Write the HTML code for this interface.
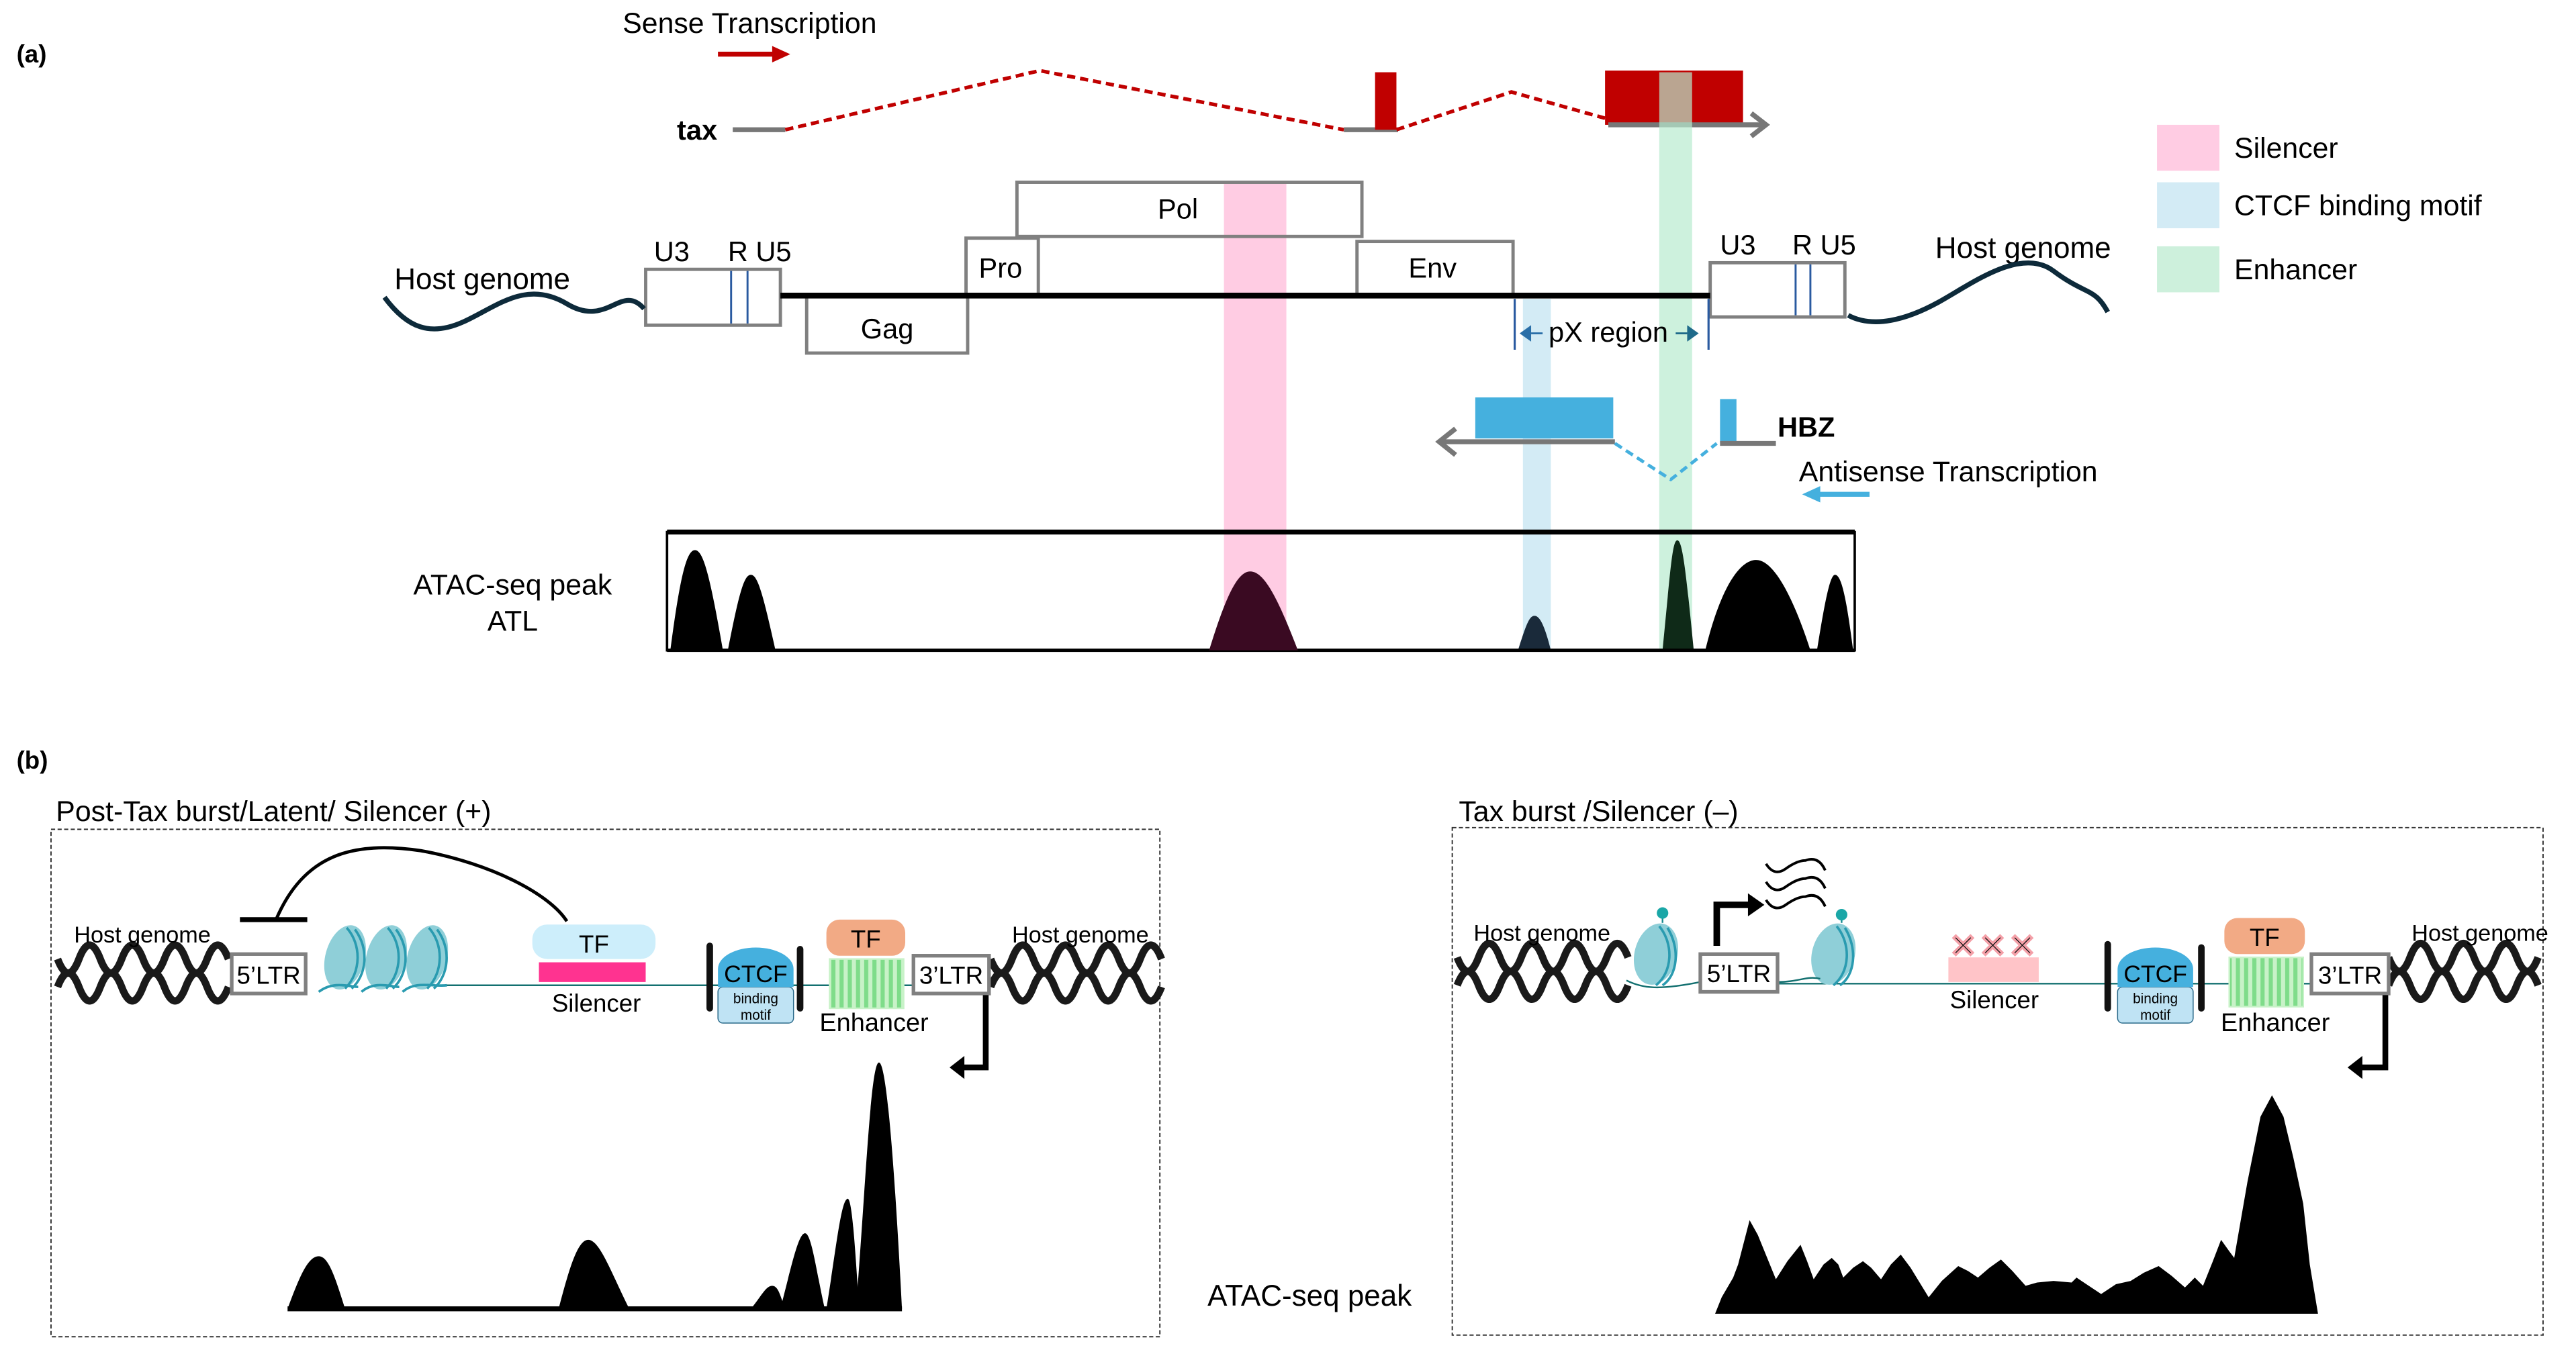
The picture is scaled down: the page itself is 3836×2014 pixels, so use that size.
<!DOCTYPE html>
<html><head><meta charset="utf-8"><style>
html,body{margin:0;padding:0;background:#fff;}
svg{display:block;}
text{font-family:"Liberation Sans",sans-serif;}
</style></head><body>
<svg width="3836" height="2014" viewBox="0 0 1568 823.3" xmlns="http://www.w3.org/2000/svg">
<defs>
<pattern id="str" width="5" height="10" patternUnits="userSpaceOnUse"><rect width="5" height="10" fill="#c8f2c8"/><rect x="1" width="2.5" height="10" fill="#7fdc8a"/></pattern>
</defs>
<rect width="1568" height="823.3" fill="#fff"/>
<!-- (a) -->
<text x="10" y="38" font-size="15" font-weight="bold">(a)</text>
<text x="379" y="20" font-size="17.5">Sense Transcription</text>
<line x1="437" y1="33" x2="472" y2="33" stroke="#c00000" stroke-width="3"/>
<polygon points="470,28 481,33 470,38" fill="#c00000"/>
<text x="412" y="85" font-size="17" font-weight="bold">tax</text>
<line x1="446" y1="79" x2="478" y2="79" stroke="#777" stroke-width="3"/>
<polyline points="478,79 633,43 818,79" fill="none" stroke="#c00000" stroke-width="2.2" stroke-dasharray="5,3"/>
<line x1="818" y1="79" x2="851" y2="79" stroke="#777" stroke-width="3"/>
<rect x="837" y="44" width="13" height="35" fill="#c00000"/>
<polyline points="850,79 920,56 977,72" fill="none" stroke="#c00000" stroke-width="2.2" stroke-dasharray="5,3"/>
<rect x="977" y="43" width="84" height="33" fill="#c00000"/>
<line x1="979" y1="76" x2="1074" y2="76" stroke="#777" stroke-width="3"/>
<polyline points="1066,69 1075,76 1066,83" fill="none" stroke="#777" stroke-width="3"/>

<!-- bands (behind) -->
<rect x="745" y="111" width="38" height="285" fill="#ffcce3"/>
<rect x="927" y="182" width="17" height="214" fill="#d3ebf5"/>
<rect x="1010" y="44" width="20" height="352" fill="#b8ebcf" opacity="0.7"/>

<!-- genome boxes -->
<g fill="none" stroke="#808080" stroke-width="2">
<rect x="619" y="111" width="210" height="33"/>
<rect x="588" y="145" width="44" height="35"/>
<rect x="826" y="147" width="95" height="33"/>
<rect x="491" y="180" width="98" height="35"/>
</g>
<g fill="#fff" stroke="#808080" stroke-width="2">
<rect x="393" y="164" width="82" height="34"/>
<rect x="1041" y="160" width="82" height="33"/>
</g>
<line x1="445" y1="165" x2="445" y2="197" stroke="#2a5aa0" stroke-width="1.2"/>
<line x1="455" y1="165" x2="455" y2="197" stroke="#2a5aa0" stroke-width="1.2"/>
<line x1="1093" y1="161" x2="1093" y2="192" stroke="#2a5aa0" stroke-width="1.2"/>
<line x1="1102" y1="161" x2="1102" y2="192" stroke="#2a5aa0" stroke-width="1.2"/>
<line x1="475" y1="180" x2="1041" y2="180" stroke="#000" stroke-width="3.5"/>
<text x="717" y="133" font-size="17" text-anchor="middle">Pol</text>
<text x="609" y="169" font-size="17" text-anchor="middle">Pro</text>
<text x="872" y="169" font-size="17" text-anchor="middle">Env</text>
<text x="540" y="206" font-size="17" text-anchor="middle">Gag</text>
<text x="398" y="159" font-size="17">U3</text>
<text x="443" y="159" font-size="17">R U5</text>
<text x="1047" y="155" font-size="17">U3</text>
<text x="1091" y="155" font-size="17">R U5</text>
<text x="240" y="176" font-size="18">Host genome</text>
<text x="1178" y="157" font-size="18">Host genome</text>
<path d="M234,181 C248,200 262,205 282,196 S 320,170 345,185 S 378,172 392,188" fill="none" stroke="#0d2a3a" stroke-width="3"/>
<path d="M1125,192 C1140,200 1160,195 1180,184 S 1230,150 1250,165 S 1275,175 1283,190" fill="none" stroke="#0d2a3a" stroke-width="3"/>

<!-- pX -->
<line x1="922" y1="182" x2="922" y2="213" stroke="#2a5aa0" stroke-width="1.3"/>
<line x1="1040" y1="182" x2="1040" y2="213" stroke="#2a5aa0" stroke-width="1.3"/>
<polygon points="925,203 932,198 932,208" fill="#2a6fa8"/>
<line x1="932" y1="203" x2="939" y2="203" stroke="#2a6fa8" stroke-width="1.2"/>
<polygon points="1034,203 1027,198 1027,208" fill="#1f6a8a"/>
<line x1="1020" y1="203" x2="1027" y2="203" stroke="#1f6a8a" stroke-width="1.2"/>
<text x="979" y="208" font-size="17" text-anchor="middle">pX region</text>

<!-- HBZ -->
<rect x="898" y="242" width="84" height="25" fill="#45b0de"/>
<line x1="876" y1="269" x2="983" y2="269" stroke="#777" stroke-width="3"/>
<polyline points="886,261 876,269 886,277" fill="none" stroke="#777" stroke-width="3"/>
<rect x="1047" y="243" width="10" height="27" fill="#45b0de"/>
<line x1="1047" y1="270" x2="1081" y2="270" stroke="#777" stroke-width="3"/>
<polyline points="983,270 1017,292 1045,270" fill="none" stroke="#45b0de" stroke-width="2" stroke-dasharray="5,3"/>
<text x="1082" y="266" font-size="17" font-weight="bold">HBZ</text>
<text x="1095" y="293" font-size="17.5">Antisense Transcription</text>
<line x1="1106" y1="301" x2="1138" y2="301" stroke="#45b0de" stroke-width="3"/>
<polygon points="1097,301 1108,296 1108,306" fill="#45b0de"/>

<!-- ATAC (a) -->
<rect x="406" y="324" width="723" height="72" fill="none" stroke="#000" stroke-width="1.5"/>
<line x1="406" y1="324" x2="1129" y2="324" stroke="#000" stroke-width="3"/>
<g fill="#000">
<path d="M408,396 C414,350 418,335 423,335 C428,335 432,350 440,396 Z"/>
<path d="M443,396 C450,360 453,350 457,350 C461,350 464,360 472,396 Z"/>
<path d="M1038,396 C1048,355 1060,341 1069,341 C1080,341 1092,365 1102,396 Z"/>
<path d="M1106,396 C1111,365 1114,350 1117,350 C1121,350 1124,365 1128,396 Z"/>
</g>
<path d="M924,396 C929,380 931,375 934,375 C937,375 940,380 944,396 Z" fill="#1a2a3a"/>
<path d="M1012,396 C1017,345 1018,329 1021,329 C1024,329 1026,345 1031,396 Z" fill="#0f2a18"/>
<line x1="406" y1="396" x2="1129" y2="396" stroke="#000" stroke-width="2"/>
<path d="M736,396 C747,360 754,348 761,348 C769,348 777,362 790,396 Z" fill="#3a0a22"/>
<text x="312" y="362" font-size="17.5" text-anchor="middle">ATAC-seq peak</text>
<text x="312" y="384" font-size="17.5" text-anchor="middle">ATL</text>

<!-- legend -->
<rect x="1313" y="76" width="38" height="28" fill="#ffcce3"/>
<text x="1360" y="96" font-size="17.5">Silencer</text>
<rect x="1313" y="111" width="38" height="28" fill="#d3ebf5"/>
<text x="1360" y="131" font-size="17.5">CTCF binding motif</text>
<rect x="1313" y="150" width="38" height="28" fill="#cdf0dc"/>
<text x="1360" y="170" font-size="17.5">Enhancer</text>

<!-- (b) -->
<text x="10" y="468" font-size="15" font-weight="bold">(b)</text>
<text x="34" y="500" font-size="17.5">Post-Tax burst/Latent/ Silencer (+)</text>
<text x="888" y="500" font-size="17.5">Tax burst /Silencer (–)</text>
<rect x="31" y="505" width="675" height="309" fill="none" stroke="#333" stroke-width="0.8" stroke-dasharray="2.5,1.5"/>
<rect x="884" y="504" width="664" height="309" fill="none" stroke="#333" stroke-width="0.8" stroke-dasharray="2.5,1.5"/>
<text x="735" y="795" font-size="18">ATAC-seq peak</text>

<!-- left panel -->
<g fill="none" stroke="#1a1a1a" stroke-width="4.5">
<path d="M35,584 q6.5,17 13,0 t13,0 t13,0 t13,0 t13,0 t13,0 t13,0 t13,0"/>
<path d="M35,601 q6.5,-17 13,0 t13,0 t13,0 t13,0 t13,0 t13,0 t13,0 t13,0"/>
<path d="M603,584 q6.5,17 13,0 t13,0 t13,0 t13,0 t13,0 t13,0 t13,0 t13,0"/>
<path d="M603,601 q6.5,-17 13,0 t13,0 t13,0 t13,0 t13,0 t13,0 t13,0 t13,0"/>
</g>
<text x="45" y="574" font-size="14">Host genome</text>
<text x="616" y="574" font-size="14">Host genome</text>
<line x1="270" y1="600" x2="556" y2="600" stroke="#137070" stroke-width="1"/>
<g>
<ellipse cx="210" cy="583" rx="12" ry="20" transform="rotate(15 210 583)" fill="#8fcfd8"/>
<ellipse cx="235" cy="583" rx="12" ry="20" transform="rotate(15 235 583)" fill="#8fcfd8"/>
<ellipse cx="260" cy="583" rx="12" ry="20" transform="rotate(15 260 583)" fill="#8fcfd8"/>
<g fill="none" stroke="#2a9bb0" stroke-width="1.5">
<path d="M211,565 C220,575 220,592 210,602"/><path d="M216,566 C225,578 223,594 214,602"/>
<path d="M236,565 C245,575 245,592 235,602"/><path d="M241,566 C250,578 248,594 239,602"/>
<path d="M261,565 C270,575 270,592 260,602"/><path d="M266,566 C275,578 273,594 264,602"/>
<path d="M194,604 C203,597 213,601 218,601 M220,604 C228,597 238,601 243,601 M245,604 C253,597 263,601 272,600"/>
</g></g>
<rect x="141" y="581" width="45" height="24" fill="#fff" stroke="#808080" stroke-width="2.2"/>
<text x="163.5" y="599" font-size="15" text-anchor="middle">5’LTR</text>
<path d="M168,560 C185,520 215,512 256,518 C300,526 335,545 345,561" fill="none" stroke="#000" stroke-width="2"/>
<line x1="146" y1="560" x2="187" y2="560" stroke="#000" stroke-width="3"/>
<rect x="324" y="563" width="75" height="21" rx="9" fill="#cdeefb"/>
<text x="361.5" y="580" font-size="15" text-anchor="middle">TF</text>
<rect x="328" y="586" width="65" height="12" fill="#ff3390"/>
<text x="363" y="616" font-size="15" text-anchor="middle">Silencer</text>
<rect x="430" y="574" width="4" height="42" rx="2" fill="#111"/>
<rect x="485" y="576" width="4" height="40" rx="2" fill="#111"/>
<rect x="437" y="601" width="46" height="22" rx="3" fill="#bfe3f4" stroke="#2a6a8a" stroke-width="0.6"/>
<path d="M437,601 L437,590 A23,13 0 0 1 483,590 L483,601 Z" fill="#45b0de"/>
<text x="460" y="598" font-size="14.5" text-anchor="middle">CTCF</text>
<text x="460" y="611" font-size="8.5" text-anchor="middle">binding</text>
<text x="460" y="621" font-size="8.5" text-anchor="middle">motif</text>
<rect x="503" y="560" width="48" height="22" rx="8" fill="#f2aa85"/>
<text x="527" y="577" font-size="15" text-anchor="middle">TF</text>
<rect x="505" y="584" width="45" height="30" fill="url(#str)" stroke="#c8f2c8" stroke-width="1"/>
<text x="532" y="628" font-size="15.5" text-anchor="middle">Enhancer</text>
<rect x="556" y="582" width="46" height="23" fill="#fff" stroke="#808080" stroke-width="2.2"/>
<text x="579" y="599" font-size="15" text-anchor="middle">3’LTR</text>
<polyline points="600,606 600,650 586,650" fill="none" stroke="#000" stroke-width="3.5"/>
<polygon points="578,650 587,643 587,657" fill="#000"/>
<!-- left peaks -->
<g fill="#000">
<path d="M175,797 C183,775 188,765 194,765 C200,765 204,778 210,797 Z"/>
<path d="M340,797 C347,770 352,755 358,755 C365,755 372,775 383,797 Z"/>
<path d="M457,797 C463,790 466,783 470,783 C474,783 475,790 478,797 Z"/>
<path d="M475,797 C482,770 486,751 490,751 C494,751 497,775 502,797 Z"/>
<path d="M503,797 C509,760 512,730 516,730 C519,730 521,770 523,797 Z"/>
<path d="M521,797 C527,720 530,647 535,647 C540,647 545,720 549,797 Z"/>
</g>
<line x1="175" y1="797" x2="549" y2="797" stroke="#000" stroke-width="3"/>

<!-- right panel -->
<g fill="none" stroke="#1a1a1a" stroke-width="4.5">
<path d="M887,583 q6.5,17 13,0 t13,0 t13,0 t13,0 t13,0 t13,0 t13,0 t13,0"/>
<path d="M887,600 q6.5,-17 13,0 t13,0 t13,0 t13,0 t13,0 t13,0 t13,0 t13,0"/>
<path d="M1454,583 q6.5,17 13,0 t13,0 t13,0 t13,0 t13,0 t13,0 t13,0"/>
<path d="M1454,600 q6.5,-17 13,0 t13,0 t13,0 t13,0 t13,0 t13,0 t13,0"/>
</g>
<text x="897" y="573" font-size="14">Host genome</text>
<text x="1468" y="573" font-size="14">Host genome</text>
<line x1="1082" y1="599" x2="1407" y2="599" stroke="#137070" stroke-width="1"/>
<path d="M990,597 C1000,602 1010,603 1035,598" fill="none" stroke="#137070" stroke-width="1"/>
<g>
<ellipse cx="1008" cy="581" rx="13" ry="19" transform="rotate(15 1008 581)" fill="#8fcfd8"/>
<path d="M1010,564 C1019,575 1018,592 1008,600 M1015,565 C1023,578 1021,594 1012,600" fill="none" stroke="#2a9bb0" stroke-width="1.5"/>
<line x1="1012" y1="562" x2="1012" y2="556" stroke="#1a8a90" stroke-width="1"/>
<circle cx="1012" cy="556" r="3.5" fill="#1aa7a7"/>
<ellipse cx="1116" cy="581" rx="13" ry="19" transform="rotate(15 1116 581)" fill="#8fcfd8"/>
<path d="M1118,564 C1127,575 1126,592 1116,600 M1123,565 C1131,578 1129,594 1120,600" fill="none" stroke="#2a9bb0" stroke-width="1.5"/>
<line x1="1121" y1="562" x2="1121" y2="557" stroke="#1a8a90" stroke-width="1"/>
<circle cx="1121" cy="557" r="3.5" fill="#1aa7a7"/>
<path d="M1082,598 C1095,598 1100,594 1108,596" fill="none" stroke="#137070" stroke-width="1"/>
</g>
<rect x="1035" y="581" width="47" height="23" fill="#fff" stroke="#808080" stroke-width="2.2"/>
<text x="1058.5" y="598" font-size="15" text-anchor="middle">5’LTR</text>
<polyline points="1045,576 1045,551 1066,551" fill="none" stroke="#000" stroke-width="4"/>
<polygon points="1064,544 1074,551 1064,558" fill="#000"/>
<g fill="none" stroke="#000" stroke-width="1.6">
<path d="M1075,526 q5,8 12,3 t12,-5 q8,-3 12,6"/>
<path d="M1075,537 q5,8 12,3 t12,-5 q8,-3 12,6"/>
<path d="M1075,548 q5,8 12,3 t12,-5 q8,-3 12,6"/>
</g>
<rect x="1186" y="583" width="55" height="15" fill="#ffc4c8"/>
<g font-size="20" font-weight="bold" text-anchor="middle" fill="#111" stroke="#f4a0a8" stroke-width="0.8">
<text x="1195" y="583">✕</text><text x="1213" y="583">✕</text><text x="1231" y="583">✕</text>
</g>
<text x="1214" y="614" font-size="15" text-anchor="middle">Silencer</text>
<rect x="1281" y="573" width="4" height="43" rx="2" fill="#111"/>
<rect x="1338" y="575" width="4" height="41" rx="2" fill="#111"/>
<rect x="1289" y="601" width="46" height="22" rx="3" fill="#bfe3f4" stroke="#2a6a8a" stroke-width="0.6"/>
<path d="M1289,601 L1289,590 A23,13 0 0 1 1335,590 L1335,601 Z" fill="#45b0de"/>
<text x="1312" y="598" font-size="14.5" text-anchor="middle">CTCF</text>
<text x="1312" y="611" font-size="8.5" text-anchor="middle">binding</text>
<text x="1312" y="621" font-size="8.5" text-anchor="middle">motif</text>
<rect x="1354" y="559" width="49" height="22" rx="8" fill="#f2aa85"/>
<text x="1378.5" y="576" font-size="15" text-anchor="middle">TF</text>
<rect x="1357" y="583" width="45" height="30" fill="url(#str)" stroke="#c8f2c8" stroke-width="1"/>
<text x="1385" y="628" font-size="15.5" text-anchor="middle">Enhancer</text>
<rect x="1407" y="581" width="47" height="24" fill="#fff" stroke="#808080" stroke-width="2.2"/>
<text x="1430.5" y="599" font-size="15" text-anchor="middle">3’LTR</text>
<polyline points="1452,606 1452,650 1437,650" fill="none" stroke="#000" stroke-width="3.5"/>
<polygon points="1429,650 1438,643 1438,657" fill="#000"/>
<path d="M1044,800 L1048,790 L1055,778 L1058,770 L1065,743 L1070,752 L1081,779 L1088,768 L1096,758 L1100,768 L1104,779 L1110,770 L1115,766 L1119,770 L1122,778 L1128,772 L1134,768 L1139,772 L1145,779 L1151,770 L1157,764 L1163,772 L1174,790 L1182,780 L1192,771 L1198,774 L1204,778 L1211,772 L1218,767 L1225,774 L1233,783 L1240,781 L1250,780 L1261,781 L1264,778 L1270,782 L1279,788 L1288,782 L1297,780 L1305,775 L1314,771 L1322,777 L1330,784 L1336,778 L1341,783 L1347,768 L1352,755 L1357,762 L1360,766 L1368,720 L1376,680 L1383,667 L1390,680 L1396,705 L1402,733 L1406,770 L1411,800 Z" fill="#000"/>
</svg>
</body></html>
